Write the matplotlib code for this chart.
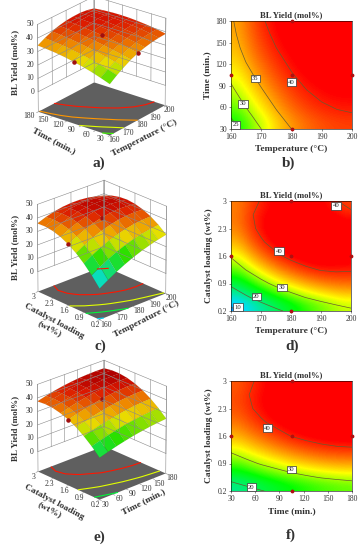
import numpy as np
import matplotlib
matplotlib.use("Agg")
import matplotlib.pyplot as plt
from matplotlib.colors import LinearSegmentedColormap, Normalize
from mpl_toolkits.mplot3d import proj3d

W, H = 364, 550

# values, rows = y axis, columns = x axis
temp_grid = [160, 165, 170, 175, 180, 185, 190, 195, 200]
time_grid = [30, 48.75, 67.5, 86.25, 105, 123.75, 142.5, 161.25, 180]
cat_grid = [0.2, 0.55, 0.9, 1.25, 1.6, 1.95, 2.3, 2.65, 3.0]

yield_temp_time = [
    [23.0, 26.8, 30.0, 32.9, 35.0, 36.5, 37.6, 38.2, 38.5],
    [25.4, 28.9, 31.8, 34.4, 36.4, 37.9, 38.9, 39.5, 39.8],
    [27.6, 30.8, 33.5, 35.8, 37.7, 39.1, 40.0, 40.6, 40.8],
    [29.4, 32.5, 34.9, 37.1, 38.8, 40.1, 40.9, 41.4, 41.5],
    [31.0, 33.9, 36.2, 38.2, 39.8, 41.0, 41.7, 42.1, 42.0],
    [32.3, 35.1, 37.3, 39.2, 40.6, 41.7, 42.3, 42.5, 42.2],
    [33.3, 36.1, 38.3, 40.0, 41.3, 42.2, 42.7, 42.7, 42.1],
    [34.0, 36.8, 39.0, 40.7, 41.9, 42.6, 42.9, 42.6, 41.7],
    [34.5, 37.3, 39.6, 41.2, 42.3, 42.8, 42.9, 42.3, 41.0],
]
yield_temp_cat = [
    [8.0, 11.9, 15.5, 18.7, 21.5, 23.9, 25.9, 27.6, 29.0],
    [15.2, 19.1, 22.6, 25.6, 28.1, 30.2, 31.8, 33.0, 33.8],
    [21.4, 25.2, 28.5, 31.3, 33.6, 35.3, 36.6, 37.3, 37.6],
    [26.5, 30.1, 33.3, 35.9, 37.8, 39.3, 40.2, 40.5, 40.3],
    [30.5, 34.0, 37.0, 39.3, 41.0, 42.1, 42.7, 42.6, 42.0],
    [33.5, 36.8, 39.5, 41.5, 43.0, 43.8, 44.1, 43.6, 42.7],
    [35.4, 38.4, 40.9, 42.7, 43.8, 44.3, 44.3, 43.6, 42.3],
    [36.2, 39.0, 41.1, 42.6, 43.5, 43.7, 43.4, 42.4, 40.9],
    [36.0, 38.4, 40.2, 41.4, 42.0, 42.0, 41.4, 40.2, 38.5],
]
yield_time_cat = [
    [16.0, 17.9, 19.7, 21.2, 22.6, 23.7, 24.7, 25.4, 26.0],
    [21.9, 23.7, 25.5, 27.0, 28.4, 29.4, 30.3, 30.9, 31.4],
    [26.8, 28.7, 30.4, 31.8, 33.2, 34.2, 35.1, 35.6, 35.9],
    [30.9, 32.7, 34.3, 35.8, 37.1, 38.1, 38.8, 39.3, 39.5],
    [34.0, 35.8, 37.4, 38.8, 40.1, 41.0, 41.7, 42.1, 42.2],
    [36.2, 38.0, 39.6, 40.9, 42.2, 43.0, 43.6, 44.0, 44.0],
    [37.6, 39.3, 40.9, 42.2, 43.3, 44.1, 44.7, 44.9, 44.9],
    [38.0, 39.7, 41.2, 42.5, 43.5, 44.3, 44.7, 45.0, 44.9],
    [37.5, 39.2, 40.7, 41.9, 42.8, 43.5, 43.9, 44.1, 44.0],
]

temp_ticks = [160, 170, 180, 190, 200]
time_ticks = [30, 60, 90, 120, 150, 180]
cat_ticks = [0.2, 0.9, 1.6, 2.3, 3.0]
cat_labels = ["0.2", "0.9", "1.6", "2.3", "3"]
z_ticks = [0, 10, 20, 30, 40, 50]

pts_b = ([160, 180, 180, 200, 180], [105, 180, 105, 105, 30])
pts_d = ([180, 160, 180, 200, 180], [3, 1.6, 1.6, 1.6, 0.2])
pts_f = ([105, 30, 105, 180, 105], [3, 1.6, 1.6, 1.6, 0.2])
pts_a = ([160, 180, 180], [105, 105, 30], [31, 39.8, 35])
pts_c = ([160, 180], [1.6, 1.6], [30.5, 41])
pts_e = ([30, 105], [1.6, 1.6], [34, 40.1])

labels_b = [(161.5, 36, "25"), (164, 65, "30"), (168, 100, "35"), (180, 95, "40")]
labels_d = [(162.3, 0.3, "10"), (168.5, 0.57, "20"), (177, 0.8, "30"),
            (176, 1.72, "40"), (195, 2.88, "40")]
labels_f = [(55, 0.3, "20"), (105, 0.75, "30"), (75, 1.8, "40")]

cmap = LinearSegmentedColormap.from_list("rsm", [
    (0.0, "#0000ff"), (0.125, "#00dcff"), (0.45, "#00ff00"),
    (0.65, "#ffff00"), (0.9, "#ff0000"), (1.0, "#ff0000")])
# the 3D surfaces look darker and less red than the flat maps
cmap3d = LinearSegmentedColormap.from_list("rsm3d", [
    (0.0, "#0000ff"), (0.125, "#00dcff"), (0.45, "#20e000"),
    (0.65, "#e8e000"), (0.78, "#f09000"), (0.93, "#dc1800"), (1.0, "#b00000")])
norm = Normalize(5, 45)

plt.rcParams['font.family'] = ['Liberation Serif', 'DejaVu Serif']
txt = "#333333"
fig = plt.figure(figsize=(W / 100, H / 100), dpi=100)


def ftext(x, y, s, **kw):
    fig.text(x / W, 1 - y / H, s, ha="center", va="center", color=txt, **kw)


def surface3d(cx, cy, size, azim, x, y, z, xt, xl, yt, yl, levels, pts, zoom, xoff, yoff):
    ax = fig.add_axes([(cx - size / 2) / W, 1 - (cy + size / 2) / H, size / W, size / H],
                      projection="3d", computed_zorder=False)
    ax.patch.set_alpha(0)
    ax.set_proj_type("persp", focal_length=3.0)
    ax.view_init(elev=24, azim=azim)
    ax.set_box_aspect((1, 1, 1.05), zoom=zoom)
    ax.set_axis_off()
    x0, x1, y0, y1 = x[0], x[-1], y[0], y[-1]
    zf = -15
    ax.set_xlim(x0, x1)
    ax.set_ylim(y0, y1)
    ax.set_zlim(zf, 50)
    X, Y = np.meshgrid(x, y)
    Z = np.array(z)
    g = dict(color="#8a8a8a", lw=0.4)

    def label(px, py, pz, s, off, **kw):
        a, b, _ = proj3d.proj_transform(px, py, pz, ax.get_proj())
        ax.annotate(s, xy=(a, b), xycoords=ax.transData, xytext=off, textcoords="offset pixels",
                    fontsize=5.5, color=txt, va="center", annotation_clip=False, **kw)

    # floor
    ax.plot_surface(np.array([[x0, x1], [x0, x1]]), np.array([[y0, y0], [y1, y1]]),
                    np.full((2, 2), zf), color="#5f5f5f", shade=False, linewidth=0)
    ax.contour(X, Y, Z, levels=levels, zdir="z", offset=zf, cmap=cmap, norm=norm,
               linewidths=0.8)
    # back walls
    for t in z_ticks:
        ax.plot([x0, x1], [y1, y1], [t, t], **g)
        ax.plot([x1, x1], [y0, y1], [t, t], **g)
        label(x0, y1, t, str(t), (-4, 0), ha="right")
    for t in xt:
        ax.plot([t, t], [y1, y1], [0, 50], **g)
    for t in yt:
        ax.plot([x1, x1], [t, t], [0, 50], **g)
    for px, py in [(x0, y1), (x1, y0), (x1, y1)]:
        ax.plot([px, px], [py, py], [zf, 50], **g)
    for t, s in zip(xt, xl):
        ax.plot([t, t], [y0, y0 - 0.03 * (y1 - y0)], [zf, zf], **g)
        label(t, y0, zf, s, xoff, ha="center")
    for t, s in zip(yt, yl):
        ax.plot([x0, x0 - 0.03 * (x1 - x0)], [t, t], [zf, zf], **g)
        label(x0, t, zf, s, yoff, ha="center")
    ax.plot_surface(X, Y, Z, rstride=1, cstride=1, cmap=cmap3d, norm=norm, shade=False,
                    edgecolor=(0.25, 0.15, 0, 0.22), linewidth=0.2)
    ax.scatter(pts[0], pts[1], pts[2], s=5, color="#a01010", depthshade=False)
    return ax


def contour2d(left, top, right, bottom, x, y, z, xt, xl, yt, yl, levels, pts, labels, xlabel, ylabel):
    ax = fig.add_axes([left / W, 1 - bottom / H, (right - left) / W, (bottom - top) / H])
    Z = np.array(z)
    ax.imshow(Z, origin="lower", extent=(x[0], x[-1], y[0], y[-1]), aspect="auto",
              cmap=cmap, norm=norm, interpolation="bicubic")
    ax.contour(x, y, Z, levels=levels, colors="#6a5a30", linewidths=0.5)
    ax.scatter(pts[0], pts[1], s=3, color="#b01010", clip_on=False, zorder=5)
    for lx, ly, s in labels:
        ax.text(lx, ly, s, fontsize=4.8, ha="center", va="center", color="#222222",
                bbox=dict(boxstyle="square,pad=0.2", fc="white", ec="#333333", lw=0.5))
    ax.set_xlim(x[0], x[-1])
    ax.set_ylim(y[0], y[-1])
    ax.set_xticks(xt, xl)
    ax.set_yticks(yt, yl)
    ax.tick_params(labelsize=5.5, length=1.5, width=0.4, pad=1.5, colors=txt)
    for s in ax.spines.values():
        s.set_linewidth(0.4)
    ax.set_title("BL Yield (mol%)", fontsize=6.2, fontweight="bold", color=txt, pad=3)
    ax.set_xlabel(xlabel, fontsize=6.8, fontweight="bold", color=txt, labelpad=3)
    ax.set_ylabel(ylabel, fontsize=6.8, fontweight="bold", color=txt, labelpad=3)
    return ax


temp_l = [str(t) for t in temp_ticks]
time_l = [str(t) for t in time_ticks]

surface3d(99, 68, 210, -142, temp_grid, time_grid, yield_temp_time, temp_ticks, temp_l,
          time_ticks, time_l, [25, 30, 35, 40], pts_a, 0.74, (4, -5), (-9, -4))
surface3d(99, 252, 210, -133, temp_grid, cat_grid, yield_temp_cat, temp_ticks, temp_l,
          cat_ticks, cat_labels, [10, 20, 30, 40], pts_c, 0.74, (6, -5), (-4, -5))
surface3d(99, 432, 210, -133, time_grid, cat_grid, yield_time_cat, time_ticks, time_l,
          cat_ticks, cat_labels, [20, 30, 40], pts_e, 0.74, (6, -5), (-4, -5))

contour2d(231, 21, 352, 129, temp_grid, time_grid, yield_temp_time, temp_ticks, temp_l,
          time_ticks, time_l, [25, 30, 35, 40], pts_b, labels_b, "Temperature (°C)", "Time (min.)")
contour2d(231, 201, 351, 311, temp_grid, cat_grid, yield_temp_cat, temp_ticks, temp_l,
          cat_ticks, cat_labels, [10, 20, 30, 40], pts_d, labels_d, "Temperature (°C)", "Catalyst loading (wt%)")
contour2d(231, 381, 352, 491, time_grid, cat_grid, yield_time_cat, time_ticks, time_l,
          cat_ticks, cat_labels, [20, 30, 40], pts_f, labels_f, "Time (min.)", "Catalyst loading (wt%)")

# axis titles of the 3D panels
ftext(15, 62, "BL Yield (mol%)", fontsize=6.5, fontweight="bold", rotation=90)
ftext(144, 138, "Temperature (°C)", fontsize=6.8, fontweight="bold", rotation=27)
ftext(54, 141, "Time (min.)", fontsize=6.8, fontweight="bold", rotation=-28)
ftext(15, 247, "BL Yield (mol%)", fontsize=6.5, fontweight="bold", rotation=90)
ftext(146, 319, "Temperature (°C)", fontsize=6.8, fontweight="bold", rotation=27)
ftext(52, 325, "Catalyst loading\n(wt%)", fontsize=6.8, fontweight="bold", rotation=-28, linespacing=1.0)
ftext(15, 428, "BL Yield (mol%)", fontsize=6.5, fontweight="bold", rotation=90)
ftext(143, 502, "Time (min.)", fontsize=6.8, fontweight="bold", rotation=27)
ftext(52, 506, "Catalyst loading\n(wt%)", fontsize=6.8, fontweight="bold", rotation=-28, linespacing=1.0)

# panel letters
for x, y, s in [(99, 163, "a)"), (289, 163, "b)"), (100, 346, "c)"),
                (292, 346, "d)"), (99, 537, "e)"), (291, 535, "f)")]:
    ftext(x, y, s, fontsize=11, fontweight="bold")

fig.savefig("out.png", dpi=100)
